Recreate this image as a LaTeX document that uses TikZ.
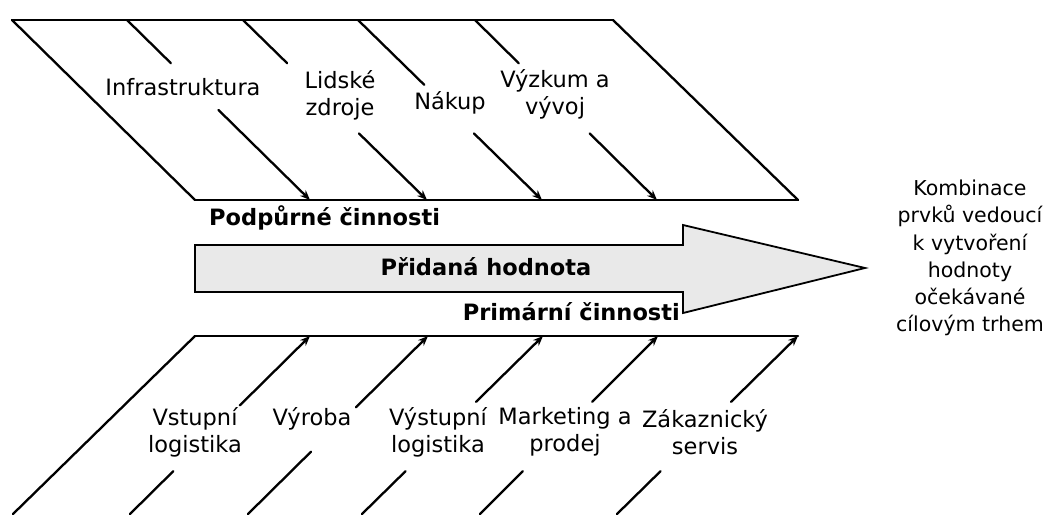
\documentclass[tikz,border=0pt]{standalone}
\usepackage{fontspec}
\setmainfont{DejaVu Sans}
\usetikzlibrary{calc,arrows.meta}
\begin{document}
\begin{tikzpicture}[x=1pt,y=-1pt,
  ln/.style={line width=2.3pt, line cap=round},
  arr/.style={ln, -{Stealth[length=10pt,width=8pt]}},
  lbl/.style={font=\fontsize{22.5}{27}\selectfont, align=center, inner sep=1pt},
  blbl/.style={font=\fontsize{22.5}{27}\selectfont\bfseries, inner sep=1pt}]
\useasboundingbox (0,0) rectangle (1054,514);
% top parallelogram
\coordinate (t1) at (12,20);  \coordinate (b1) at (195,200);
\coordinate (t2) at (127,20); \coordinate (b2) at (310,200);
\coordinate (t3) at (243,20); \coordinate (b3) at (427,200);
\coordinate (t4) at (358,20); \coordinate (b4) at (542,200);
\coordinate (t5) at (475,20); \coordinate (b5) at (657,200);
\coordinate (t6) at (613,20); \coordinate (b6) at (798,200);
\draw[ln] (t1) -- (t6);
\draw[ln] (b1) -- (b6);
\draw[ln] (t1) -- (b1);
\draw[ln] (t6) -- (b6);
\draw[ln] (t2) -- ($(t2)!0.24!(b2)$);
\draw[arr] ($(t2)!0.50!(b2)$) -- (b2);
\draw[ln] (t3) -- ($(t3)!0.24!(b3)$);
\draw[arr] ($(t3)!0.63!(b3)$) -- (b3);
\draw[ln] (t4) -- ($(t4)!0.36!(b4)$);
\draw[arr] ($(t4)!0.63!(b4)$) -- (b4);
\draw[ln] (t5) -- ($(t5)!0.24!(b5)$);
\draw[arr] ($(t5)!0.63!(b5)$) -- (b5);
\node[lbl] (infra) at (183,87) {Infrastruktura};
\node[lbl] (lidske) at (340,95) {Lidské\\zdroje};
\node[lbl] (nakup) at (450,103) {Nákup};
\node[lbl] (vyzkum) at (555,94) {Výzkum a\\vývoj};
\node[blbl, anchor=west] (podp) at (208,218) {Podpůrné činnosti};
% big arrow
\draw[line width=1.8pt, fill=gray!17]
  (195,245) -- (683,245) -- (683,225) -- (865,268) -- (683,313) -- (683,292) -- (195,292) -- cycle;
\node[blbl] (prid) at (486,267) {Přidaná hodnota};
\node[blbl, anchor=east] (prim) at (681,312) {Primární činnosti};
% bottom part
\coordinate (u1) at (195,336); \coordinate (d1) at (13,514);
\coordinate (u2) at (310,336); \coordinate (d2) at (130,514);
\coordinate (u3) at (428,336); \coordinate (d3) at (248,514);
\coordinate (u4) at (543,336); \coordinate (d4) at (362,514);
\coordinate (u5) at (658,336); \coordinate (d5) at (480,514);
\coordinate (u6) at (798,336); \coordinate (d6) at (617,514);
\draw[ln] (u1) -- (u6);
\draw[ln] (u1) -- (d1);
\draw[arr] ($(u2)!0.39!(d2)$) -- (u2);
\draw[ln] ($(u2)!0.76!(d2)$) -- (d2);
\draw[arr] ($(u3)!0.40!(d3)$) -- (u3);
\draw[ln] ($(u3)!0.65!(d3)$) -- (d3);
\draw[arr] ($(u4)!0.37!(d4)$) -- (u4);
\draw[ln] ($(u4)!0.76!(d4)$) -- (d4);
\draw[arr] ($(u5)!0.37!(d5)$) -- (u5);
\draw[ln] ($(u5)!0.76!(d5)$) -- (d5);
\draw[arr] ($(u6)!0.37!(d6)$) -- (u6);
\draw[ln] ($(u6)!0.76!(d6)$) -- (d6);
\node[lbl] (vstup) at (195,432) {Vstupní\\logistika};
\node[lbl, anchor=north] (vyroba) at (312,406) {Výroba};
\node[lbl] (vystup) at (438,432) {Výstupní\\logistika};
\node[lbl] (mark) at (565,432) {Marketing a\\prodej};
\node[lbl] (zak) at (705,432) {Zákaznický\\servis};
% right text
\node[lbl, font=\fontsize{20.5}{27.3}\selectfont] (komb) at (970,258)
  {Kombinace\\prvků vedoucí\\k vytvoření\\hodnoty\\očekávané\\cílovým trhem};
\end{tikzpicture}
\end{document}
